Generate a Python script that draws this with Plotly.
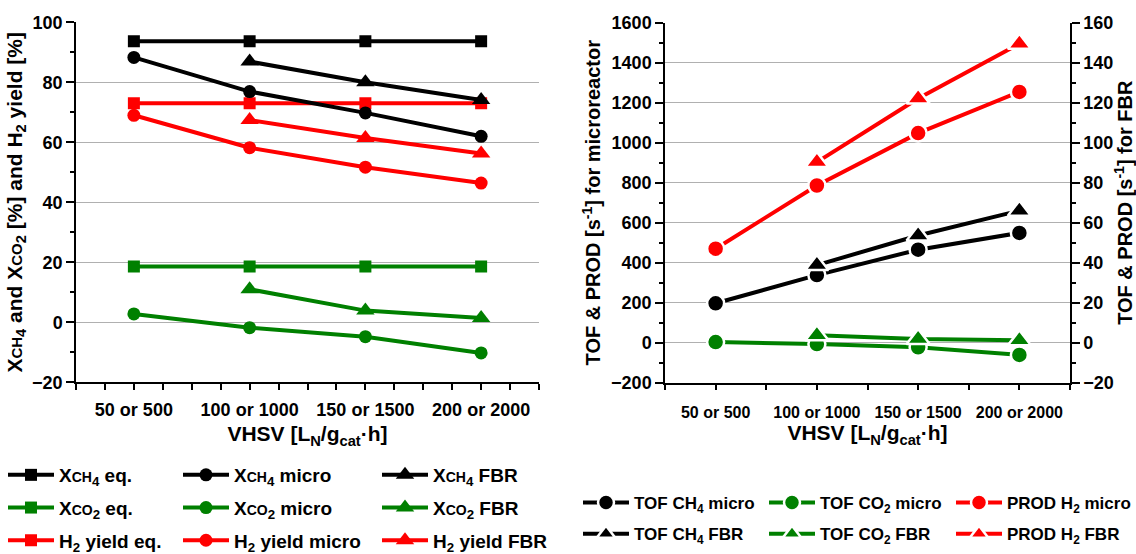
import plotly.graph_objects as go

# ---------------- data ----------------
vhsv = [50, 100, 150, 200]
vhsv_fbr = [100, 150, 200]
vhsv_ticktext = ["50 or 500", "100 or 1000", "150 or 1500", "200 or 2000"]

# left chart: conversions / yield [%]
x_ch4_eq = [93.7, 93.7, 93.7, 93.7]
x_ch4_micro = [88.3, 76.9, 69.8, 62.0]
x_ch4_fbr = [86.9, 80.0, 74.1]
x_co2_eq = [18.6, 18.6, 18.6, 18.6]
x_co2_micro = [2.8, -1.8, -4.8, -10.2]
x_co2_fbr = [11.0, 3.9, 1.4]
h2_eq = [73.0, 73.0, 73.0, 73.0]
h2_micro = [69.0, 58.2, 51.7, 46.4]
h2_fbr = [67.4, 61.4, 56.3]

# right chart: TOF & PROD [s^-1]
tof_ch4_micro = [197, 338, 465, 549]
tof_co2_micro = [3, -7, -23, -61]
prod_h2_micro = [470, 786, 1048, 1254]
tof_ch4_fbr = [38.8, 53.6, 66.0]
tof_co2_fbr = [3.7, 1.8, 1.2]
prod_h2_fbr = [90.3, 122.1, 149.5]

BLACK, GREEN, RED = "#000000", "#008000", "#ff0000"
FONT = "Liberation Sans, Arial, sans-serif"

def sm(t, s=14):
    return '<span style="font-size:%dpx">' % s + t + '</span>'

fig = go.Figure()

left_series = [
    ("X" + sm("CH") + "<sub>4</sub> eq.", vhsv, x_ch4_eq, BLACK, "square", "legend"),
    ("X" + sm("CO") + "<sub>2</sub> eq.", vhsv, x_co2_eq, GREEN, "square", "legend"),
    ("H<sub>2</sub> yield eq.", vhsv, h2_eq, RED, "square", "legend"),
    ("X" + sm("CH") + "<sub>4</sub> micro", vhsv, x_ch4_micro, BLACK, "circle", "legend2"),
    ("X" + sm("CO") + "<sub>2</sub> micro", vhsv, x_co2_micro, GREEN, "circle", "legend2"),
    ("H<sub>2</sub> yield micro", vhsv, h2_micro, RED, "circle", "legend2"),
    ("X" + sm("CH") + "<sub>4</sub> FBR", vhsv_fbr, x_ch4_fbr, BLACK, "triangle-up", "legend3"),
    ("X" + sm("CO") + "<sub>2</sub> FBR", vhsv_fbr, x_co2_fbr, GREEN, "triangle-up", "legend3"),
    ("H<sub>2</sub> yield FBR", vhsv_fbr, h2_fbr, RED, "triangle-up", "legend3"),
]
sizes = {"square": 12, "circle": 13, "triangle-up": 16}
for i, (name, xs, ys, col, sym, leg) in enumerate(left_series):
    fig.add_trace(go.Scatter(
        x=xs, y=ys, name=name, mode="lines+markers",
        line=dict(color=col, width=4),
        marker=dict(symbol=sym, size=sizes[sym], color=col, line=dict(width=0)),
        xaxis="x", yaxis="y", legend=leg, legendgroup="L%d" % i,
    ))

right_series = [
    ("TOF CH<sub>4</sub> micro", vhsv, tof_ch4_micro, BLACK, "circle", "y2", "legend4"),
    ("TOF CH<sub>4</sub> FBR", vhsv_fbr, tof_ch4_fbr, BLACK, "triangle-up", "y3", "legend4"),
    ("TOF CO<sub>2</sub> micro", vhsv, tof_co2_micro, GREEN, "circle", "y2", "legend5"),
    ("TOF CO<sub>2</sub> FBR", vhsv_fbr, tof_co2_fbr, GREEN, "triangle-up", "y3", "legend5"),
    ("PROD H<sub>2</sub> micro", vhsv, prod_h2_micro, RED, "circle", "y2", "legend6"),
    ("PROD H<sub>2</sub> FBR", vhsv_fbr, prod_h2_fbr, RED, "triangle-up", "y3", "legend6"),
]
rsizes = {"circle": 17, "triangle-up": 20}
for i, (name, xs, ys, col, sym, ya, leg) in enumerate(right_series):
    fig.add_trace(go.Scatter(
        x=xs, y=ys, name=name, mode="lines+markers",
        line=dict(color=col, width=4),
        marker=dict(symbol=sym, size=rsizes[sym], color=col, line=dict(width=2.5, color="white")),
        xaxis="x2", yaxis=ya, legend=leg, legendgroup="R%d" % i,
    ))

W, H = 1136, 554
def px(v):
    return v / W
def py(v):
    return (H - v) / H

axis_common = dict(
    showline=True, linecolor="black", linewidth=1.5,
    ticks="outside", tickcolor="black", tickwidth=1.5,
    zeroline=False, tickfont=dict(size=18),
)
xtitle = "VHSV [L<sub>N</sub>/g<sub>cat</sub>·h]"

fig.update_layout(
    width=W, height=H, margin=dict(l=0, r=0, t=0, b=0, autoexpand=False),
    paper_bgcolor="white", plot_bgcolor="white",
    font=dict(family=FONT, size=18, color="black", weight="bold"),
    xaxis=dict(
        domain=[px(76), px(539)], range=[25, 225], anchor="y",
        tickmode="array", tickvals=vhsv, ticktext=vhsv_ticktext, ticklen=6,
        minor=dict(tickmode="linear", tick0=25, dtick=12.5, ticks="outside", ticklen=6,
                   tickcolor="black", tickwidth=1.5, showgrid=False),
        showgrid=False, title=dict(text=xtitle, font=dict(size=21), standoff=8),
        ticklabelstandoff=4,
        **axis_common,
    ),
    yaxis=dict(
        domain=[py(382.3), py(22.3)], range=[-20, 100], anchor="x",
        tickmode="linear", tick0=0, dtick=20, ticklen=8,
        minor=dict(tickmode="linear", tick0=10, dtick=20, ticks="outside", ticklen=4,
                   tickcolor="black", tickwidth=1.5, showgrid=False),
        showgrid=True, gridcolor="#b0b0b0", gridwidth=1,
        title=dict(text="X" + sm("CH", 15) + "<sub>4</sub> and X" + sm("CO", 15) +
                   "<sub>2</sub> [%] and H<sub>2</sub> yield [%]",
                   font=dict(size=21), standoff=4),
        **axis_common,
    ),
    xaxis2=dict(
        domain=[px(665), px(1070)], range=[25, 225], anchor="y2",
        tickmode="array", tickvals=vhsv, ticktext=vhsv_ticktext, ticklen=6,
        minor=dict(tickmode="linear", tick0=25, dtick=25, ticks="outside", ticklen=6,
                   tickcolor="black", tickwidth=1.5, showgrid=False),
        showgrid=False, title=dict(text=xtitle, font=dict(size=21), standoff=6),
        ticklabelstandoff=8,
        showline=True, linecolor="black", linewidth=1.5,
        ticks="outside", tickcolor="black", tickwidth=1.5,
        zeroline=False, tickfont=dict(size=16),
    ),
    yaxis2=dict(
        domain=[py(382.7), py(22.7)], range=[-200, 1600], anchor="x2",
        tickmode="linear", tick0=0, dtick=200, ticklen=8,
        minor=dict(tickmode="linear", tick0=100, dtick=200, ticks="outside", ticklen=4,
                   tickcolor="black", tickwidth=1.5, showgrid=False),
        showgrid=True, gridcolor="#b0b0b0", gridwidth=1,
        title=dict(text="TOF & PROD [s<sup>-1</sup>] for microreactor",
                   font=dict(size=20), standoff=5),
        **axis_common,
    ),
    yaxis3=dict(
        overlaying="y2", side="right", range=[-20, 160], anchor="x2",
        tickmode="linear", tick0=0, dtick=20, ticklen=8,
        minor=dict(tickmode="linear", tick0=10, dtick=20, ticks="outside", ticklen=4,
                   tickcolor="black", tickwidth=1.5, showgrid=False),
        showgrid=False,
        title=dict(text="TOF & PROD [s<sup>-1</sup>] for FBR",
                   font=dict(size=20), standoff=5),
        **axis_common,
    ),
)

leg_common = dict(orientation="v", xanchor="left", yanchor="top", bgcolor="rgba(0,0,0,0)",
                  borderwidth=0, itemwidth=46, itemsizing="trace",
                  itemclick=False, itemdoubleclick=False)
fig.update_layout(
    legend=dict(x=px(3), y=py(456), font=dict(size=19), tracegroupgap=5, **leg_common),
    legend2=dict(x=px(178), y=py(456), font=dict(size=19), tracegroupgap=5, **leg_common),
    legend3=dict(x=px(377), y=py(456), font=dict(size=19), tracegroupgap=5, **leg_common),
    legend4=dict(x=px(578), y=py(485), font=dict(size=17), tracegroupgap=6, **leg_common),
    legend5=dict(x=px(764), y=py(485), font=dict(size=17), tracegroupgap=6, **leg_common),
    legend6=dict(x=px(951), y=py(485), font=dict(size=17), tracegroupgap=6, **leg_common),
)

fig.write_html("out.html")
